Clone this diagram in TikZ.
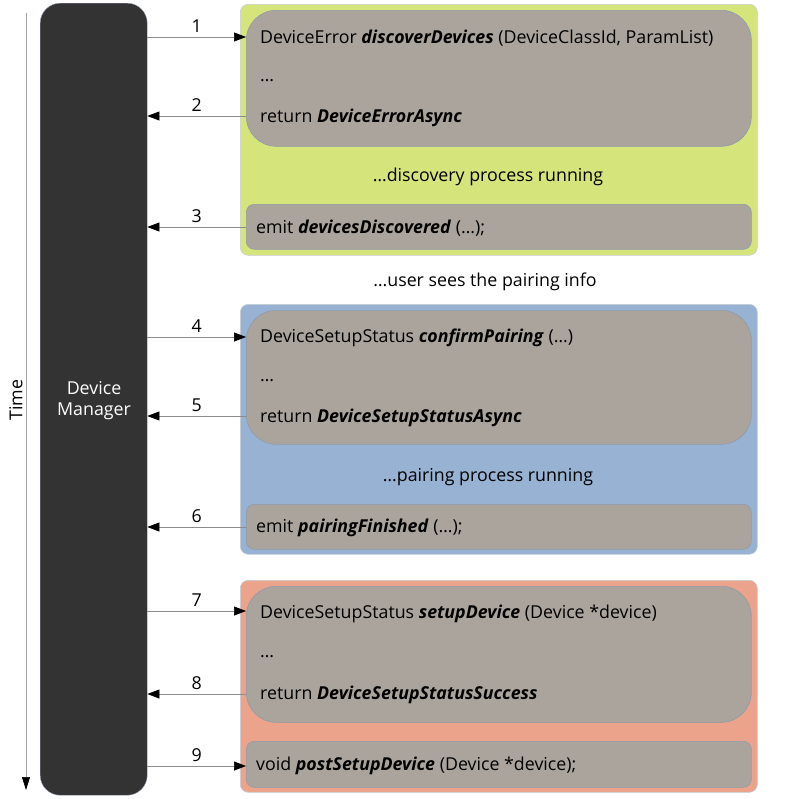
\documentclass[tikz,border=0pt]{standalone}
\usepackage{fontspec}
\setmainfont{Open Sans}
\usetikzlibrary{arrows.meta,positioning}
\definecolor{dmfill}{HTML}{333333}
\definecolor{greenbg}{HTML}{D5E57C}
\definecolor{bluebg}{HTML}{98B2D3}
\definecolor{redbg}{HTML}{EBA48B}
\definecolor{innerbg}{HTML}{ABA49D}
\definecolor{edgec}{HTML}{8E9BAA}
\definecolor{linec}{HTML}{8C8C8C}
\tikzset{
  outerbox/.style={draw=edgec!50!white, line width=0.6pt, rounded corners=8pt, inner sep=0pt, anchor=north west},
  bigbox/.style={draw=edgec, fill=innerbg, line width=0.6pt, rounded corners=30pt, inner sep=0pt, anchor=north west},
  smallbox/.style={draw=edgec, fill=innerbg, line width=0.6pt, rounded corners=8pt, inner sep=0pt, anchor=north west},
  txt/.style={font=\fontsize{17.8}{21}\selectfont, anchor=west, inner sep=0pt},
  ctxt/.style={font=\fontsize{17.8}{21}\selectfont, inner sep=0pt},
  num/.style={font=\fontsize{17.8}{21}\selectfont, inner sep=0pt},
  msg/.style={draw=linec, line width=0.7pt, -{Triangle[length=12pt,width=9pt,color=black]}},
}
\newcommand{\bi}[1]{\textbf{\textit{#1}}}
\begin{document}
\begin{tikzpicture}[x=1pt,y=-1pt]
\useasboundingbox (0,0) rectangle (800,798);
% time axis
\coordinate (ttop) at (26,13);
\coordinate (tbot) at (26,790);
\draw[draw=linec!80!white, line width=0.7pt, -{Triangle[length=13pt,width=8pt,color=black]}] (ttop) -- (tbot);
\node[ctxt, rotate=90] (time) at (16,400) {Time};
% device manager
\node[draw=edgec, fill=dmfill, rounded corners=20pt, minimum width=107pt, minimum height=792pt, inner sep=0pt, anchor=north west] (dm) at (40,3) {};
\node[ctxt, text=white, align=center, font=\fontsize{17.8}{21}\selectfont] (dmlabel) at (94,401) {Device\\Manager};
% ---------- green group
\node[outerbox, fill=greenbg, minimum width=517pt, minimum height=251pt] (g) at (240,4) {};
\node[bigbox, minimum width=505pt, minimum height=136pt] (g1) at (246,10) {};
\node[smallbox, minimum width=505pt, minimum height=45pt] (g2) at (246,204) {};
\node[txt] (l1) at (260,38) {DeviceError \bi{discoverDevices} (DeviceClassId, ParamList)};
\node[txt] (l1d) at (260,81) {\dots};
\node[txt] (l2) at (260,118) {return \bi{DeviceErrorAsync}};
\node[ctxt] (gr) at (488,177) {\dots discovery process running};
\node[txt] (l3) at (256,228) {emit \bi{devicesDiscovered} (\dots);};
\node[ctxt] (us) at (485,282) {\dots user sees the pairing info};
% ---------- blue group
\node[outerbox, fill=bluebg, minimum width=517pt, minimum height=250pt] (b) at (240,304) {};
\node[bigbox, minimum width=505pt, minimum height=134pt] (b1) at (246,310) {};
\node[smallbox, minimum width=505pt, minimum height=45pt] (b2) at (246,504) {};
\node[txt] (l4) at (260,338) {DeviceSetupStatus \bi{confirmPairing} (\dots)};
\node[txt] (l4d) at (260,381) {\dots};
\node[txt] (l5) at (260,418) {return \bi{DeviceSetupStatusAsync}};
\node[ctxt] (br) at (488,477) {\dots pairing process running};
\node[txt] (l6) at (256,528) {emit \bi{pairingFinished} (\dots);};
% ---------- red group
\node[outerbox, fill=redbg, minimum width=517pt, minimum height=212pt] (r) at (240,580) {};
\node[bigbox, minimum width=505pt, minimum height=136pt] (r1) at (246,586) {};
\node[smallbox, minimum width=505pt, minimum height=46pt] (r2) at (246,741) {};
\node[txt] (l7) at (260,614) {DeviceSetupStatus \bi{setupDevice} (Device *device)};
\node[txt] (l7d) at (260,657) {\dots};
\node[txt] (l8) at (260,695) {return \bi{DeviceSetupStatusSuccess}};
\node[txt] (l9) at (256,766) {void \bi{postSetupDevice} (Device *device);};
% ---------- messages
\coordinate (y1) at (0,37);  \coordinate (y2) at (0,116); \coordinate (y3) at (0,227);
\coordinate (y4) at (0,337); \coordinate (y5) at (0,416); \coordinate (y6) at (0,527);
\coordinate (y7) at (0,611); \coordinate (y8) at (0,694); \coordinate (y9) at (0,766);
\draw[msg] (dm.east |- y1) -- node[num, above=4pt] {1} (g1.west |- y1);
\draw[msg] (g1.west |- y2) -- node[num, above=4pt] {2} (dm.east |- y2);
\draw[msg] (g2.west |- y3) -- node[num, above=4pt] {3} (dm.east |- y3);
\draw[msg] (dm.east |- y4) -- node[num, above=4pt] {4} (b1.west |- y4);
\draw[msg] (b1.west |- y5) -- node[num, above=4pt] {5} (dm.east |- y5);
\draw[msg] (b2.west |- y6) -- node[num, above=4pt] {6} (dm.east |- y6);
\draw[msg] (dm.east |- y7) -- node[num, above=4pt] {7} (r1.west |- y7);
\draw[msg] (r1.west |- y8) -- node[num, above=4pt] {8} (dm.east |- y8);
\draw[msg] (dm.east |- y9) -- node[num, above=4pt] {9} (r2.west |- y9);
\end{tikzpicture}
\end{document}
